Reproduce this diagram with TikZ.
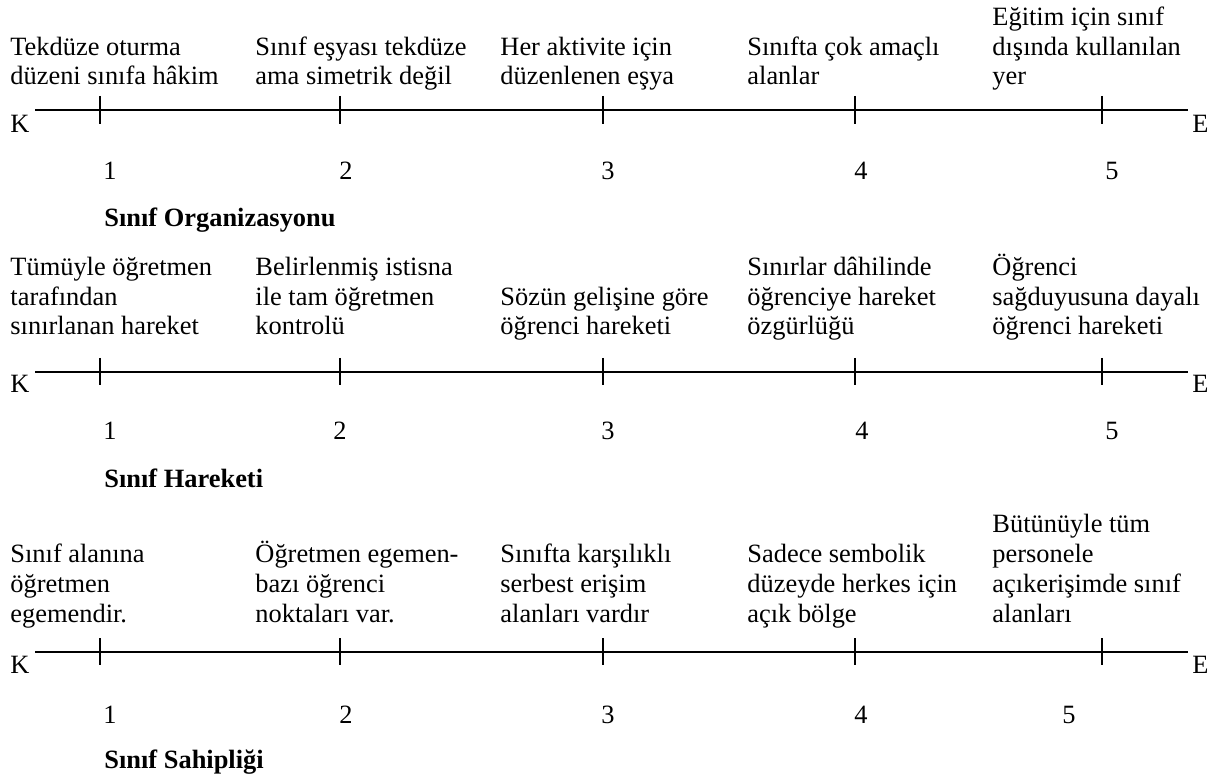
\documentclass[tikz,border=0pt]{standalone}
\usepackage{fontspec}
\setmainfont{Liberation Serif}
\usetikzlibrary{positioning}
\tikzset{
  sc_line/.style={line width=0.75pt,draw=black},
  sc_tick/.style={line width=0.5pt,draw=black},
  sc_end/.style={inner sep=0pt,anchor=base west,
    font=\fontsize{12}{13.6}\selectfont},
  sc_desc/.style={inner sep=0pt,anchor=base west,align=left,
    font=\fontsize{12}{13.6}\selectfont},
  sc_num/.style={inner sep=0pt,anchor=base,
    font=\fontsize{12}{13.6}\selectfont},
  sc_title/.style={inner sep=0pt,anchor=base west,
    font=\fontsize{12}{13.6}\selectfont\bfseries},
}
\begin{document}
\begin{tikzpicture}[x=0.4545pt,y=-0.4545pt]
  \useasboundingbox (0,0) rectangle (1215,780);

  % --- scale 1: Sinif Organizasyonu
  \node (d11) [sc_desc] at (10,85)  {Tekdüze oturma\\düzeni sınıfa hâkim};
  \node (d12) [sc_desc] at (255,85) {Sınıf eşyası tekdüze\\ama simetrik değil};
  \node (d13) [sc_desc] at (500,85) {Her aktivite için\\düzenlenen eşya};
  \node (d14) [sc_desc] at (747,85) {Sınıfta çok amaçlı\\alanlar};
  \node (d15) [sc_desc] at (992,85) {Eğitim için sınıf\\dışında kullanılan\\yer};

  \coordinate (a1) at (35,110);
  \coordinate (b1) at (1188,110);
  \draw[sc_line] (a1) -- (b1);
  \foreach \x in {100,340,603,855,1102}
    \draw[sc_tick] (\x,96) -- (\x,124);
  \node (k1) [sc_end] at (10,133)   {K};
  \node (e1) [sc_end] at (1192,133) {E};
  \foreach \x/\n in {110/1,346/2,608/3,861/4,1112/5}
    \node (n1\n) [sc_num] at (\x,180) {\n};
  \node (t1) [sc_title] at (104,227) {Sınıf Organizasyonu};

  % --- scale 2: Sinif Hareketi
  \node (d21) [sc_desc] at (10,335)  {Tümüyle öğretmen\\tarafından\\sınırlanan hareket};
  \node (d22) [sc_desc] at (255,335) {Belirlenmiş istisna\\ile tam öğretmen\\kontrolü};
  \node (d23) [sc_desc] at (500,335) {Sözün gelişine göre\\öğrenci hareketi};
  \node (d24) [sc_desc] at (747,335) {Sınırlar dâhilinde\\öğrenciye hareket\\özgürlüğü};
  \node (d25) [sc_desc] at (992,335) {Öğrenci\\sağduyusuna dayalı\\öğrenci hareketi};

  \coordinate (a2) at (35,372);
  \coordinate (b2) at (1188,372);
  \draw[sc_line] (a2) -- (b2);
  \foreach \x in {100,340,603,855,1102}
    \draw[sc_tick] (\x,358) -- (\x,385);
  \node (k2) [sc_end] at (10,393)   {K};
  \node (e2) [sc_end] at (1192,393) {E};
  \foreach \x/\n in {110/1,340/2,608/3,862/4,1112/5}
    \node (n2\n) [sc_num] at (\x,440) {\n};
  \node (t2) [sc_title] at (104,488) {Sınıf Hareketi};

  % --- scale 3: Sinif Sahipligi
  \node (d31) [sc_desc] at (10,622)  {Sınıf alanına\\öğretmen\\egemendir.};
  \node (d32) [sc_desc] at (255,622) {Öğretmen egemen-\\bazı öğrenci\\noktaları var.};
  \node (d33) [sc_desc] at (500,622) {Sınıfta karşılıklı\\serbest erişim\\alanları vardır};
  \node (d34) [sc_desc] at (747,622) {Sadece sembolik\\düzeyde herkes için\\açık bölge};
  \node (d35) [sc_desc] at (992,622) {Bütünüyle tüm\\personele\\açıkerişimde sınıf\\alanları};

  \coordinate (a3) at (35,652);
  \coordinate (b3) at (1188,652);
  \draw[sc_line] (a3) -- (b3);
  \foreach \x in {100,340,603,855,1102}
    \draw[sc_tick] (\x,638) -- (\x,665);
  \node (k3) [sc_end] at (10,673)   {K};
  \node (e3) [sc_end] at (1192,673) {E};
  \foreach \x/\n in {110/1,346/2,608/3,861/4,1069/5}
    \node (n3\n) [sc_num] at (\x,723) {\n};
  \node (t3) [sc_title] at (104,768) {Sınıf Sahipliği};

\end{tikzpicture}
\end{document}
